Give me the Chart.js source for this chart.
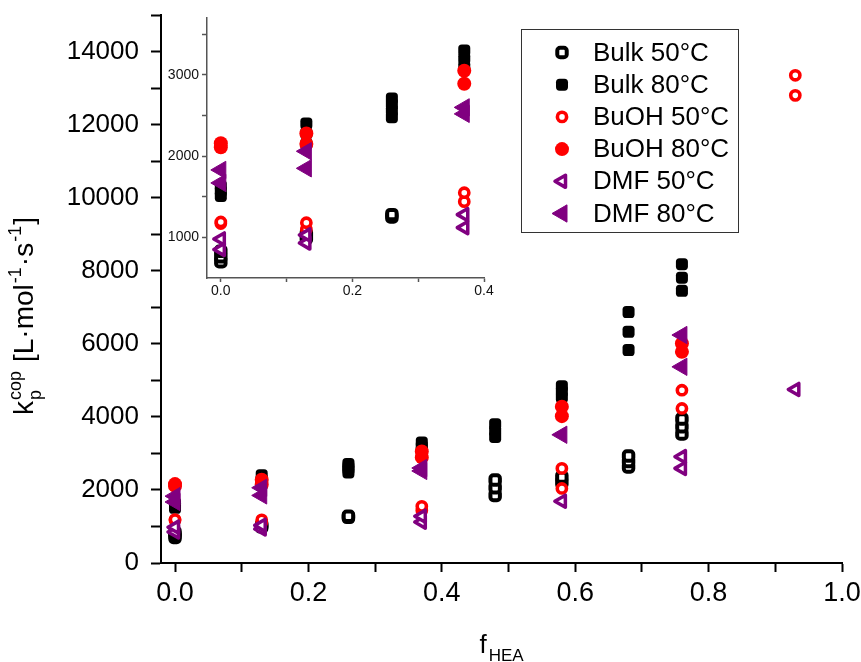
<!DOCTYPE html>
<html>
<head>
<meta charset="utf-8">
<script src="https://cdn.jsdelivr.net/npm/chart.js@4.4.0/dist/chart.umd.min.js"></script>
<style>
  html, body { margin: 0; padding: 0; background: #fff; }
  #wrap { position: relative; width: 861px; height: 662px; }
  #main { position: absolute; left: 0; top: 0; }
  #inset { position: absolute; left: 150px; top: 0; }
</style>
</head>
<body>
<div id="wrap">
  <canvas id="main" width="861" height="662"></canvas>
  <canvas id="inset" width="350" height="300"></canvas>
</div>
<script>
const FONT = "'Liberation Sans', Arial, Helvetica, sans-serif"

// f_HEA (x) and kp^cop in L/(mol s) (y)
const bulk50X = [0, 0, 0, 0.13, 0.13, 0.26, 0.26, 0.48, 0.48, 0.48, 0.58, 0.58, 0.68, 0.68, 0.68, 0.76, 0.76, 0.76]
const bulk50Y = [700, 760, 830, 990, 1040, 1250, 1280, 1850, 2060, 2270, 2200, 2350, 2630, 2780, 2930, 3530, 3730, 3940]

const bulk80X = [0, 0, 0, 0.13, 0.13, 0.13, 0.26, 0.26, 0.26, 0.26, 0.37, 0.37, 0.37, 0.48, 0.48, 0.48, 0.58, 0.58, 0.58, 0.68, 0.68, 0.68, 0.76, 0.76, 0.76]
const bulk80Y = [1510, 1570, 1630, 2150, 2280, 2400, 2480, 2560, 2640, 2710, 3100, 3200, 3300, 3450, 3620, 3800, 4540, 4700, 4840, 5830, 6330, 6870, 7450, 7810, 8180]

const buoh50X = [0, 0, 0.13, 0.13, 0.37, 0.37, 0.58, 0.58, 0.76, 0.76, 0.93, 0.93]
const buoh50Y = [1170, 1190, 1100, 1180, 1440, 1550, 2040, 2590, 4230, 4730, 12800, 13350]

const buoh80X = [0, 0, 0.13, 0.13, 0.37, 0.37, 0.58, 0.58, 0.76, 0.76]
const buoh80Y = [2110, 2160, 2150, 2280, 2890, 3050, 4020, 4280, 5780, 6010]

const dmf50X = [0, 0, 0.13, 0.13, 0.37, 0.37, 0.58, 0.76, 0.76, 0.93]
const dmf50Y = [850, 980, 930, 1030, 1120, 1280, 1690, 2590, 2910, 4750]

const dmf80X = [0, 0, 0.13, 0.13, 0.37, 0.37, 0.58, 0.76, 0.76]
const dmf80Y = [1670, 1830, 1850, 2060, 2520, 2600, 3510, 5370, 6240]

const seriesNames = ['Bulk 50°C', 'Bulk 80°C', 'BuOH 50°C', 'BuOH 80°C', 'DMF 50°C', 'DMF 80°C']
const seriesX = [bulk50X, bulk80X, buoh50X, buoh80X, dmf50X, dmf80X]
const seriesY = [bulk50Y, bulk80Y, buoh50Y, buoh80Y, dmf50Y, dmf80Y]

// tick marks (every one) and the ones that carry a label
const mainXTicks = [0, 0.1, 0.2, 0.3, 0.4, 0.5, 0.6, 0.7, 0.8, 0.9, 1.0]
const mainXLabels = [0, 0.2, 0.4, 0.6, 0.8, 1.0]
const mainYTicks = [0, 1000, 2000, 3000, 4000, 5000, 6000, 7000, 8000, 9000, 10000, 11000, 12000, 13000, 14000, 15000]
const mainYLabels = [0, 2000, 4000, 6000, 8000, 10000, 12000, 14000]
const insetXTicks = [0, 0.1, 0.2, 0.3, 0.4]
const insetXLabels = [0, 0.2, 0.4]
const insetYTicks = [1000, 1500, 2000, 2500, 3000, 3500]
const insetYLabels = [1000, 2000, 3000]

// marker look per series
const markers = [
  { pointStyle: 'rectRounded', rotation: 0, radius: 5.5, borderWidth: 4, color: '#000000', fill: '#ffffff' },
  { pointStyle: 'rectRounded', rotation: 0, radius: 7, borderWidth: 0, color: '#000000', fill: '#000000' },
  { pointStyle: 'circle', rotation: 0, radius: 4.6, borderWidth: 3.6, color: '#ff0000', fill: '#ffffff' },
  { pointStyle: 'circle', rotation: 0, radius: 7, borderWidth: 0, color: '#ff0000', fill: '#ff0000' },
  { pointStyle: 'triangle', rotation: -90, radius: 7, borderWidth: 3.5, color: '#800080', fill: '#ffffff' },
  { pointStyle: 'triangle', rotation: -90, radius: 10, borderWidth: 1, color: '#800080', fill: '#800080' }
]

function buildDatasets (maxX) {
  return seriesNames.map((name, i) => {
    const m = markers[i]
    const pts = []
    seriesX[i].forEach((x, j) => { if (x <= maxX) pts.push({ x: x, y: seriesY[i][j] }) })
    return {
      label: name,
      data: pts,
      order: 6 - i,
      showLine: false,
      pointStyle: m.pointStyle,
      pointRotation: m.rotation,
      pointRadius: m.radius,
      pointHoverRadius: m.radius,
      pointBorderWidth: m.borderWidth,
      pointBorderColor: m.color,
      pointBackgroundColor: m.fill
    }
  })
}

function near (v, list, eps) {
  return list.some(l => Math.abs(l - v) < eps)
}

function fixedTicks (values) {
  return s => { s.ticks = values.map(v => ({ value: v })) }
}

const roundJoin = {
  id: 'roundJoin',
  beforeDatasetsDraw (chart) { chart.ctx.lineJoin = 'round' },
  afterDatasetsDraw (chart) { chart.ctx.lineJoin = 'miter' }
}

const legendBox = {
  id: 'legendBox',
  afterDraw (chart) {
    const ctx = chart.ctx
    ctx.save()
    ctx.strokeStyle = '#333'
    ctx.lineWidth = 1
    ctx.strokeRect(521.5, 29.5, 217, 203)
    ctx.lineJoin = 'round'
    seriesNames.forEach((name, i) => {
      const m = markers[i]
      const y = 52.5 + i * 32.2
      ctx.fillStyle = m.fill
      ctx.strokeStyle = m.color
      ctx.lineWidth = m.borderWidth
      Chart.helpers.drawPoint(ctx, { pointStyle: m.pointStyle, rotation: m.rotation, radius: m.radius, borderWidth: m.borderWidth }, 562, y)
      ctx.fillStyle = '#000'
      ctx.font = '26px ' + FONT
      ctx.textBaseline = 'middle'
      ctx.textAlign = 'left'
      ctx.fillText(name, 593, y + 1)
    })
    ctx.restore()
  }
}

const axisTitles = {
  id: 'axisTitles',
  afterDraw (chart) {
    const ctx = chart.ctx
    const big = '28px ' + FONT
    const small = '18px ' + FONT
    ctx.save()
    ctx.fillStyle = '#000'
    ctx.textBaseline = 'alphabetic'
    ctx.textAlign = 'left'

    // f_HEA
    ctx.font = '26px ' + FONT
    const wf = ctx.measureText('f').width
    ctx.font = '17px ' + FONT
    const wh = ctx.measureText('HEA').width
    const cx = (chart.chartArea.left + chart.chartArea.right) / 2
    const x0 = cx - (wf + wh + 2) / 2
    ctx.font = '26px ' + FONT
    ctx.fillText('f', x0, 653)
    ctx.font = '17px ' + FONT
    ctx.fillText('HEA', x0 + wf + 2, 661)

    // kp^cop [L·mol^-1·s^-1], rotated
    ctx.translate(33, 415)
    ctx.rotate(-Math.PI / 2)
    let x = 0
    ctx.font = big
    ctx.fillText('k', x, 0)
    x += ctx.measureText('k').width + 1
    ctx.font = small
    ctx.fillText('cop', x, -12)
    ctx.fillText('p', x, 8)
    x += ctx.measureText('cop').width + 9
    ctx.font = big
    ctx.fillText('[L·mol', x, 0)
    x += ctx.measureText('[L·mol').width + 1
    ctx.font = small
    ctx.fillText('-1', x, -12)
    x += ctx.measureText('-1').width + 1
    ctx.font = big
    ctx.fillText('·s', x, 0)
    x += ctx.measureText('·s').width + 1
    ctx.font = small
    ctx.fillText('-1', x, -12)
    x += ctx.measureText('-1').width + 1
    ctx.font = big
    ctx.fillText(']', x, 0)
    ctx.restore()
  }
}

new Chart(document.getElementById('main'), {
  type: 'scatter',
  data: { datasets: buildDatasets(1) },
  options: {
    responsive: false,
    animation: false,
    events: [],
    layout: { padding: { top: 15, right: 19, left: 0, bottom: 0 } },
    plugins: { legend: { display: false }, tooltip: { enabled: false } },
    scales: {
      x: {
        type: 'linear',
        min: -0.021,
        max: 1.0,
        border: { display: true, color: '#000', width: 2 },
        grid: { drawOnChartArea: false, drawTicks: true, tickLength: 9, tickColor: '#000', tickWidth: 2 },
        ticks: {
          autoSkip: false,
          maxRotation: 0,
          padding: 5,
          color: '#000',
          font: { family: FONT, size: 27 },
          callback: v => near(v, mainXLabels, 1e-6) ? v.toFixed(1) : ''
        },
        afterBuildTicks: fixedTicks(mainXTicks),
        afterFit: s => { s.height = 99; s.paddingLeft = 0; s.paddingRight = 0 }
      },
      y: {
        type: 'linear',
        min: 0,
        max: 15000,
        border: { display: true, color: '#000', width: 2 },
        grid: { drawOnChartArea: false, drawTicks: true, tickLength: 10, tickColor: '#000', tickWidth: 2 },
        ticks: {
          autoSkip: false,
          padding: 12,
          color: '#000',
          font: { family: FONT, size: 26 },
          callback: v => near(v, mainYLabels, 1e-3) ? String(v) : ''
        },
        afterBuildTicks: fixedTicks(mainYTicks),
        afterFit: s => { s.width = 161; s.paddingTop = 0; s.paddingBottom = 0 }
      }
    }
  },
  plugins: [roundJoin, legendBox, axisTitles]
})

new Chart(document.getElementById('inset'), {
  type: 'scatter',
  data: { datasets: buildDatasets(0.4) },
  options: {
    responsive: false,
    animation: false,
    events: [],
    layout: { padding: { top: 18, right: 16, left: 0, bottom: 0 } },
    plugins: { legend: { display: false }, tooltip: { enabled: false } },
    scales: {
      x: {
        type: 'linear',
        min: -0.021,
        max: 0.4,
        border: { display: true, color: '#555', width: 1.5 },
        grid: { drawOnChartArea: false, drawTicks: true, tickLength: 4, tickColor: '#555', tickWidth: 1.5 },
        ticks: {
          autoSkip: false,
          maxRotation: 0,
          padding: 1,
          color: '#111',
          font: { family: FONT, size: 14 },
          callback: v => near(v, insetXLabels, 1e-6) ? v.toFixed(1) : ''
        },
        afterBuildTicks: fixedTicks(insetXTicks),
        afterFit: s => { s.height = 22; s.paddingLeft = 0; s.paddingRight = 0 }
      },
      y: {
        type: 'linear',
        min: 500,
        max: 3700,
        border: { display: true, color: '#555', width: 1.5 },
        grid: { drawOnChartArea: false, drawTicks: true, tickLength: 5, tickColor: '#555', tickWidth: 1.5 },
        ticks: {
          autoSkip: false,
          padding: 3,
          color: '#111',
          font: { family: FONT, size: 14 },
          callback: v => near(v, insetYLabels, 1e-3) ? String(v) : ''
        },
        afterBuildTicks: fixedTicks(insetYTicks),
        afterFit: s => { s.width = 57; s.paddingTop = 0; s.paddingBottom = 0 }
      }
    }
  },
  plugins: [roundJoin]
})
</script>
</body>
</html>
